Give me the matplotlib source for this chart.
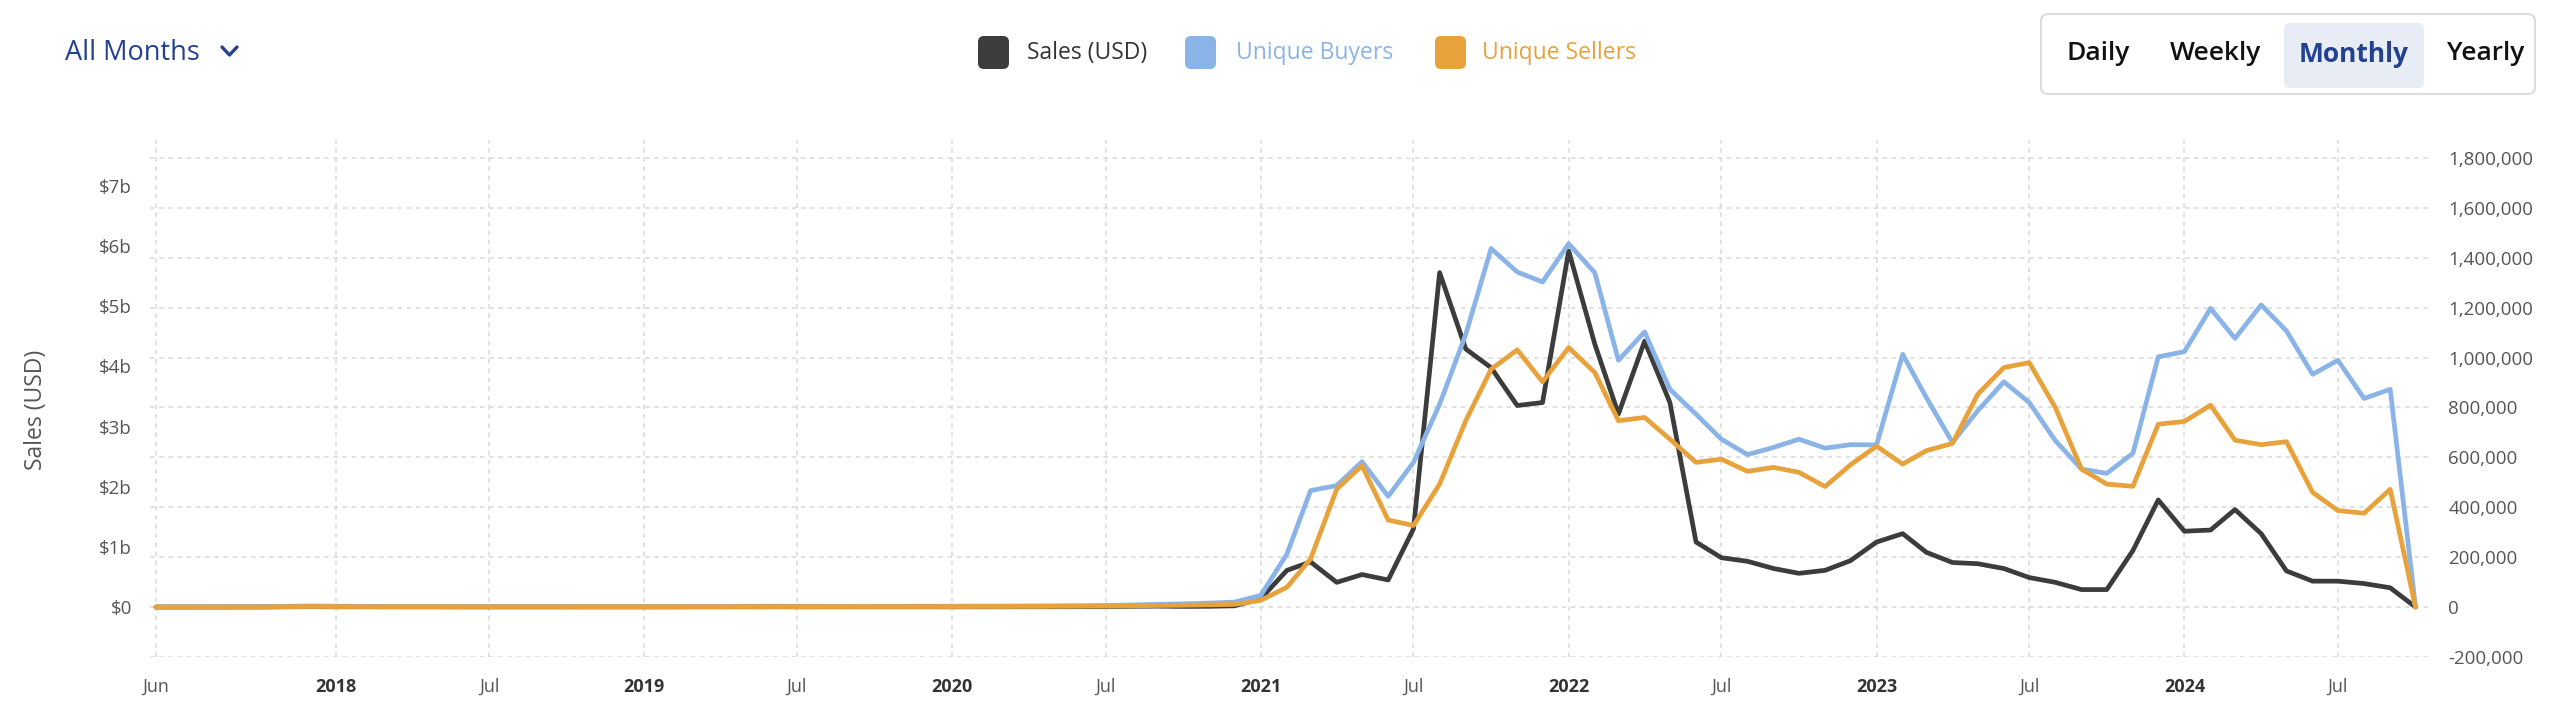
import matplotlib
matplotlib.use('Agg')
import matplotlib.pyplot as plt
import matplotlib.patches as mpatches
from matplotlib.transforms import IdentityTransform
from matplotlib.lines import Line2D
import pandas as pd

plt.rcParams['font.family'] = ['Open Sans', 'DejaVu Sans']

# ---------------- data ----------------
months = pd.date_range('2017-06-01', '2024-10-01', freq='MS')

sales_usd_b = [
    # 2017 Jun-Dec
    0.000, 0.000, 0.000, 0.001, 0.001, 0.004, 0.006,
    # 2018
    0.004, 0.004, 0.003, 0.003, 0.003, 0.002, 0.002, 0.002, 0.002, 0.002, 0.002, 0.002,
    # 2019
    0.002, 0.002, 0.003, 0.003, 0.003, 0.003, 0.003, 0.003, 0.003, 0.003, 0.003, 0.003,
    # 2020
    0.003, 0.004, 0.004, 0.005, 0.005, 0.006, 0.008, 0.012, 0.015, 0.010, 0.012, 0.020,
    # 2021
    0.14, 0.61, 0.75, 0.41, 0.54, 0.45, 1.30, 5.56, 4.29, 3.98, 3.35, 3.40,
    # 2022
    5.92, 4.37, 3.21, 4.42, 3.40, 1.08, 0.82, 0.76, 0.64, 0.56, 0.61, 0.77,
    # 2023
    1.08, 1.22, 0.91, 0.74, 0.72, 0.64, 0.49, 0.41, 0.29, 0.29, 0.94, 1.78,
    # 2024 Jan-Oct
    1.26, 1.28, 1.62, 1.22, 0.60, 0.43, 0.43, 0.39, 0.32, 0.00,
]

unique_buyers = [
    300, 400, 500, 700, 900, 3000, 4500,
    3500, 3000, 2800, 2600, 2500, 2400, 2400, 2300, 2300, 2400, 2500, 2500,
    2600, 2700, 2900, 3000, 3200, 3300, 3200, 3100, 3000, 3100, 3200, 3300,
    3500, 4000, 4200, 4500, 5000, 5500, 6500, 8500, 11000, 13000, 16000, 20000,
    47000, 213000, 467000, 487000, 583000, 444000, 580000, 813000, 1093000, 1437000, 1343000, 1303000,
    1456000, 1340000, 989000, 1103000, 873000, 773000, 673000, 611000, 640000, 673000, 637000, 651000,
    650000, 1013000, 840000, 660000, 787000, 903000, 820000, 667000, 553000, 536000, 617000, 1003000,
    1024000, 1197000, 1077000, 1211000, 1107000, 933000, 989000, 836000, 873000, 0,
]

unique_sellers = [
    100, 150, 200, 300, 400, 1500, 2500,
    2000, 1800, 1600, 1500, 1500, 1400, 1400, 1400, 1400, 1400, 1500, 1500,
    1500, 1600, 1700, 1800, 1900, 2000, 1900, 1900, 1900, 2000, 2000, 2100,
    2200, 2500, 2600, 2800, 3000, 3300, 4000, 5000, 6500, 7500, 9000, 11000,
    27000, 80000, 193000, 473000, 567000, 349000, 327000, 493000, 747000, 953000, 1031000, 903000,
    1040000, 940000, 747000, 760000, 673000, 580000, 593000, 544000, 560000, 540000, 483000, 570000,
    645000, 573000, 627000, 656000, 853000, 960000, 980000, 800000, 553000, 493000, 484000, 733000,
    744000, 809000, 669000, 651000, 663000, 460000, 387000, 376000, 472000, 0,
]

x_tick_dates = ['2017-06-01', '2018-01-01', '2018-07-01', '2019-01-01', '2019-07-01',
                '2020-01-01', '2020-07-01', '2021-01-01', '2021-07-01', '2022-01-01',
                '2022-07-01', '2023-01-01', '2023-07-01', '2024-01-01', '2024-07-01']
x_tick_labels = ['Jun', '2018', 'Jul', '2019', 'Jul', '2020', 'Jul', '2021', 'Jul',
                 '2022', 'Jul', '2023', 'Jul', '2024', 'Jul']
left_ticks_b = [0, 1, 2, 3, 4, 5, 6, 7]
left_tick_labels = ['$0', '$1b', '$2b', '$3b', '$4b', '$5b', '$6b', '$7b']
right_ticks = [-200000, 0, 200000, 400000, 600000, 800000, 1000000,
               1200000, 1400000, 1600000, 1800000]
right_tick_labels = ['-200,000', '0', '200,000', '400,000', '600,000', '800,000',
                     '1,000,000', '1,200,000', '1,400,000', '1,600,000', '1,800,000']

legend_labels = ['Sales (USD)', 'Unique Buyers', 'Unique Sellers']
buttons = ['Daily', 'Weekly', 'Monthly', 'Yearly']

# ---------------- style ----------------
C_SALES = '#3c3c3c'
C_BUY = '#8ab4e8'
C_SELL = '#e8a23b'
C_NAVY = '#24418f'
C_GRID = '#d9d9d9'
C_TICK = '#555555'

W, H = 2560, 716
fig = plt.figure(figsize=(W / 100, H / 100), dpi=100)
fig.patch.set_facecolor('white')


def fx(px):
    return px / W


def fy(py):
    return 1 - py / H


L, R, T, B = 150, 2429, 140, 657
ax = fig.add_axes([fx(L), fy(B), (R - L) / W, (B - T) / H])
ax2 = ax.twinx()

left_lim = (-0.831, 7.765)
right_lim = (-200000, 1872000)
ax.set_ylim(*left_lim)
ax2.set_ylim(*right_lim)
xlo = months[0] - pd.Timedelta(days=7)
xhi = months[-1] + pd.Timedelta(days=16)
ax.set_xlim(xlo, xhi)

# grid (horizontal lines follow the right axis ticks)
for v in right_ticks:
    yl = left_lim[0] + (v - right_lim[0]) / (right_lim[1] - right_lim[0]) * (left_lim[1] - left_lim[0])
    ax.axhline(yl, color=C_GRID, lw=1.1, ls=(0, (3, 3)), zorder=0)
for d in x_tick_dates:
    ax.axvline(pd.Timestamp(d), color=C_GRID, lw=1.1, ls=(0, (3, 3)), zorder=0)

lw = 3.4
ax.plot(months, sales_usd_b, color=C_SALES, lw=lw, solid_joinstyle='round',
        solid_capstyle='round', zorder=3)
ax2.plot(months, unique_buyers, color=C_BUY, lw=lw, solid_joinstyle='round',
         solid_capstyle='round', zorder=3)
ax2.plot(months, unique_sellers, color=C_SELL, lw=lw, solid_joinstyle='round',
         solid_capstyle='round', zorder=4)

for a in (ax, ax2):
    for s in a.spines.values():
        s.set_visible(False)
ax2.patch.set_visible(False)

ax.set_yticks(left_ticks_b)
ax.set_yticklabels(left_tick_labels)
ax.tick_params(axis='y', length=0, pad=13, labelsize=13.5, labelcolor=C_TICK)
ax2.set_yticks(right_ticks)
ax2.set_yticklabels(right_tick_labels)
ax2.tick_params(axis='y', length=0, pad=14, labelsize=13.5, labelcolor=C_TICK)

ax.set_xticks([pd.Timestamp(d) for d in x_tick_dates])
ax.set_xticklabels(x_tick_labels)
ax.tick_params(axis='x', length=0, pad=15, labelsize=13, labelcolor=C_TICK)
for lab in ax.get_xticklabels():
    if lab.get_text().isdigit():
        lab.set_fontweight('bold')
        lab.set_color('#333333')

fig.text(fx(36), fy(410), 'Sales (USD)', rotation=90, ha='center', va='center',
         fontsize=16.5, color=C_TICK)

# ---------------- header ----------------
fig.text(fx(65), fy(53), 'All Months', ha='left', va='center', fontsize=19.5, color=C_NAVY)
fig.add_artist(Line2D([222, 229.5, 237], [H - 47, H - 55, H - 47], transform=IdentityTransform(),
                      color=C_NAVY, lw=2.4, solid_capstyle='round', solid_joinstyle='round'))

leg_boxes = [(978, C_SALES), (1185, C_BUY), (1435, C_SELL)]
leg_text_x = [1027, 1236, 1482]
leg_text_c = ['#333333', C_BUY, C_SELL]
for (bx, c), tx, tc, lab in zip(leg_boxes, leg_text_x, leg_text_c, legend_labels):
    fig.add_artist(mpatches.FancyBboxPatch((bx, H - 69), 31, 33,
                                           boxstyle='round,pad=0,rounding_size=6',
                                           transform=IdentityTransform(), facecolor=c,
                                           edgecolor='none'))
    fig.text(fx(tx), fy(53), lab, ha='left', va='center', fontsize=16.5, color=tc)

# buttons
fig.add_artist(mpatches.FancyBboxPatch((2041, H - 94), 494, 80,
                                       boxstyle='round,pad=0,rounding_size=7',
                                       transform=IdentityTransform(), facecolor='white',
                                       edgecolor='#dddddd', lw=1.5))
fig.add_artist(mpatches.FancyBboxPatch((2284, H - 88), 140, 65,
                                       boxstyle='round,pad=0,rounding_size=6',
                                       transform=IdentityTransform(), facecolor='#e8ecf5',
                                       edgecolor='none'))
btn_x = [2098, 2216, 2354, 2486]
for bxx, lab in zip(btn_x, buttons):
    active = lab == 'Monthly'
    fig.text(fx(bxx), fy(54), lab, ha='center', va='center', fontsize=19,
             fontweight='bold' if active else 'semibold',
             color=C_NAVY if active else '#111111')

fig.savefig('out.png', dpi=100, facecolor='white')
